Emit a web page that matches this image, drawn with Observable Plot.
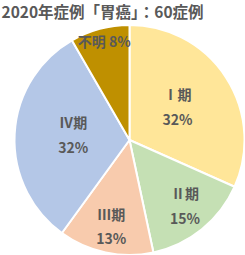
<!DOCTYPE html>
<html><head><meta charset="utf-8">
<script src="https://cdn.jsdelivr.net/npm/d3@7"></script>
<script src="https://cdn.jsdelivr.net/npm/@observablehq/plot@0.6"></script>
<style>body{margin:0;background:#fff;} svg{display:block;}</style>
</head><body><div id="chart"></div>
<script>
const title = "2020年症例「胃癌」：60症例";
const stages = ["Ⅰ期", "Ⅱ期", "Ⅲ期", "Ⅳ期", "不明"];
const counts = [19, 9, 8, 19, 5];
const percents = ["32%", "15%", "13%", "32%", "8%"];
const colors = ["#FFE699", "#C5E0B4", "#F8CBAD", "#B4C7E7", "#BF9000"];

const total = d3.sum(counts);
const data = stages.map((s, i) => ({stage: s, count: counts[i], pct: percents[i], color: colors[i]}));
const arcs = d3.pie().sort(null).value(d => d.count)(data);

const labels = arcs.map((a, i) => {
  const frac = a.data.count / total;
  const mid = (a.startAngle + a.endAngle) / 2;
  const rf = 1 - 1.6 * frac;
  const single = i === stages.length - 1;
  return {
    x: rf * Math.sin(mid),
    y: -rf * Math.cos(mid),
    text: single ? `${a.data.stage} ${a.data.pct}` : `${a.data.stage}\n${a.data.pct}`
  };
});

function pieMark(index, scales) {
  const cx = scales.x(0), cy = scales.y(0);
  const R = scales.x(1) - scales.x(0);
  const arc = d3.arc().innerRadius(0).outerRadius(R);
  const g = d3.create("svg:g").attr("transform", `translate(${cx},${cy})`);
  g.selectAll("path").data(arcs).join("path")
    .attr("d", arc)
    .attr("fill", d => d.data.color)
    .attr("stroke", "#fff")
    .attr("stroke-width", 2)
    .attr("stroke-linejoin", "round");
  return g.node();
}

const chart = Plot.plot({
  width: 245,
  height: 255,
  margin: 0,
  x: {domain: [-1, 1], range: [14.5, 244.5], axis: null},
  y: {domain: [-1, 1], range: [25, 255], axis: null},
  style: {fontFamily: "'Noto Sans CJK JP', 'Noto Sans', sans-serif", background: "#fff"},
  marks: [
    pieMark,
    Plot.text(labels, {
      x: "x", y: "y", text: "text", dy: -5,
      fill: "#595959", fontSize: 14, fontWeight: "bold", lineHeight: 1.75
    }),
    Plot.text([title], {
      frameAnchor: "top-left", dx: 1, dy: 6,
      fill: "#595959", fontSize: 15.5, fontWeight: "bold"
    })
  ]
});
document.getElementById("chart").append(chart);
</script></body></html>
